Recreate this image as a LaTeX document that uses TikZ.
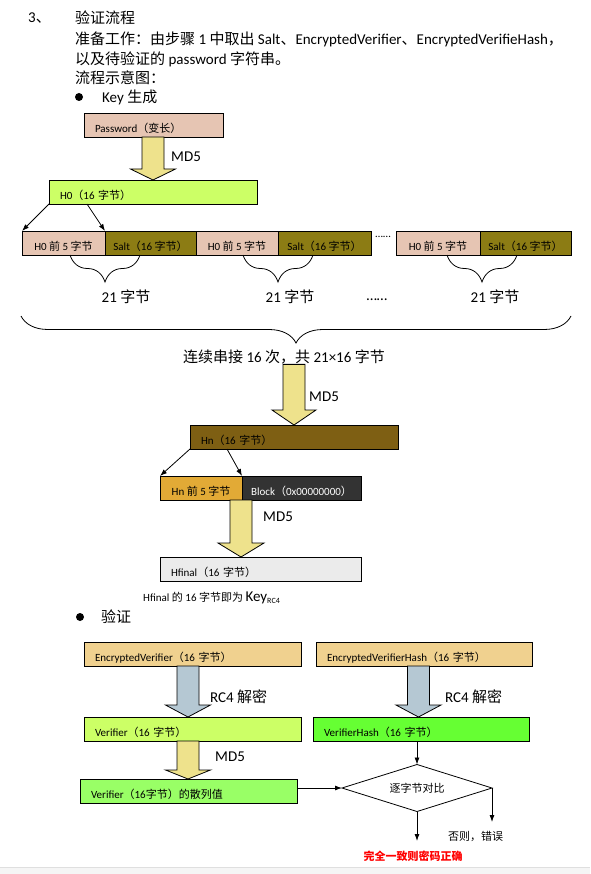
\documentclass[tikz,border=0pt]{standalone}
\usepackage{fontspec}
\setmainfont{Carlito}
\newfontfamily\cjk{Noto Sans CJK SC}
\newcommand{\zh}[1]{{\cjk #1}}
\newcommand{\nodefont}{\fontsize{11}{13}\selectfont}
\newcommand{\bodyfont}{\fontsize{15}{18}\selectfont}
\usetikzlibrary{positioning,calc,arrows.meta,decorations.pathreplacing,shapes.geometric}

\definecolor{pwcol}{HTML}{E6C5B3}
\definecolor{h0col}{HTML}{CCFF66}
\definecolor{saltcol}{HTML}{8C7C14}
\definecolor{hncol}{HTML}{7E5F13}
\definecolor{hpcol}{HTML}{E2AA36}
\definecolor{blockcol}{HTML}{333333}
\definecolor{hfcol}{HTML}{EBEBEB}
\definecolor{evcol}{HTML}{F0D18F}
\definecolor{vhcol}{HTML}{66FF33}
\definecolor{hashcol}{HTML}{99FF66}
\definecolor{yelcol}{HTML}{EEE28C}
\definecolor{bluecol}{HTML}{B5C8D3}

% fat arrow: fill, x centre, top node, bottom node, half shaft, half head, head length
\newcommand{\fatarrow}[7]{%
  \path[fatarrow,fill=#1] let \p1=(#3.south), \p2=(#4.north) in
    ({(#2-#5)*1pt},\y1) -- ({(#2+#5)*1pt},\y1) -- ({(#2+#5)*1pt},\y2+#7pt)
    -- ({(#2+#6)*1pt},\y2+#7pt) -- ({#2*1pt},\y2) -- ({(#2-#6)*1pt},\y2+#7pt)
    -- ({(#2-#5)*1pt},\y2+#7pt) -- cycle;}

\begin{document}
\begin{tikzpicture}[x=1pt, y=-1pt,
    box/.style={draw, line width=0.8pt, outer sep=0pt, anchor=north west, minimum height=24pt,
      inner xsep=11pt, inner ysep=0pt, text height=15pt, text depth=0pt, align=left, font=\nodefont},
    cbox/.style={box, align=center, inner xsep=0pt, minimum width=#1},
    txt/.style={anchor=west, inner sep=0pt, font=\bodyfont},
    lbl/.style={anchor=west, inner sep=0pt, font=\nodefont},
    dot/.style={circle, fill, inner sep=0pt, minimum size=8pt},
    conn/.style={-{Latex[length=7pt,width=5pt]}, line width=0.8pt},
    fatarrow/.style={draw, line width=0.8pt},
    brace21/.style={decorate, decoration={brace, mirror, amplitude=27pt}, line width=0.8pt}]

    \useasboundingbox (0,0) rectangle (590,874);
    \fill[gray!8] (0,867) rectangle (590,874);
    \draw[gray!25] (0,867) -- (590,867);

    % Text
    \node[txt] (num) at (28,18) {3\zh{、}};
    \node[txt] (title) at (75,18) {\zh{验证流程}};
    \node[txt] (prep) at (75,39) {\zh{准备工作：由步骤} 1 \zh{中取出} Salt\zh{、}EncryptedVerifier\zh{、}EncryptedVerifieHash\zh{，}};
    \node[txt] (prep2) at (75,59) {\zh{以及待验证的} password \zh{字符串。}};
    \node[txt] (sketch) at (75,78) {\zh{流程示意图：}};
    \node[dot] (b1) at (79,97) {};
    \node[txt] (keygen) at (102,97) {Key \zh{生成}};

    % Key generation
    \node[box, fill=pwcol, text width=117pt] (pw) at (84,113) {Password\zh{（变长）}};
    \node[box, fill=h0col, text width=186pt] (h0) at (49,180) {H0\zh{（}16 \zh{字节）}};
    \node[txt] (md5a) at (171,157) {MD5};

    \node[cbox=83, fill=pwcol] (r1) at (22,231) {H0 \zh{前} 5 \zh{字节}};
    \node[cbox=91, fill=saltcol, right=0pt of r1] (r2) {Salt\zh{（}16 \zh{字节）}};
    \node[cbox=82, fill=pwcol, right=0pt of r2] (r3) {H0 \zh{前} 5 \zh{字节}};
    \node[cbox=93, fill=saltcol, right=0pt of r3] (r4) {Salt\zh{（}16 \zh{字节）}};
    \node[cbox=84, fill=pwcol] (r5) at (396,231) {H0 \zh{前} 5 \zh{字节}};
    \node[cbox=91, fill=saltcol, right=0pt of r5] (r6) {Salt\zh{（}16 \zh{字节）}};
    \node[lbl, anchor=base] (dots1) at (383,238) {……};

    \draw[brace21] (70,255) -- (140,255);
    \draw[brace21] (243,255) -- (313,255);
    \draw[brace21] (447,255) -- (517,255);
    \node[txt, anchor=center] (len1) at (126,297) {21 \zh{字节}};
    \node[txt, anchor=center] (len2) at (290,297) {21 \zh{字节}};
    \node[txt, anchor=center] (len3) at (495,297) {21 \zh{字节}};
    \node[txt, anchor=base] (dots2) at (377,300) {……};
    \draw[brace21] (21,316) -- (571,316);
    \node[txt, anchor=center] (total) at (284,357) {\zh{连续串接} 16 \zh{次，共} 21×16 \zh{字节}};

    \node[box, fill=hncol, text width=186pt] (hn) at (190,425) {Hn\zh{（}16 \zh{字节）}};
    \node[txt] (md5b) at (309,397) {MD5};
    \node[cbox=82, fill=hpcol] (hp) at (160,476) {Hn \zh{前} 5 \zh{字节}};
    \node[cbox=119, fill=blockcol, text=white, right=0pt of hp] (blk) {Block\zh{（}0x00000000\zh{）}};
    \node[txt] (md5c) at (263,517) {MD5};
    \node[box, fill=hfcol, text width=179pt] (hf) at (160,557) {Hfinal\zh{（}16 \zh{字节）}};
    \node[lbl] (keyrc) at (143,598) {Hfinal \zh{的} 16 \zh{字节即为} {\bodyfont Key}\raisebox{-2pt}{\fontsize{8}{9}\selectfont RC4}};

    % Verification
    \node[dot] (b2) at (80,617) {};
    \node[txt] (verify) at (101,617) {\zh{验证}};
    \node[box, fill=evcol, text width=195pt] (ev) at (84,642) {EncryptedVerifier\zh{（}16 \zh{字节）}};
    \node[box, fill=evcol, text width=194pt] (evh) at (316,642) {EncryptedVerifierHash\zh{（}16 \zh{字节）}};
    \node[txt] (rc4a) at (210,697) {RC4 \zh{解密}};
    \node[txt] (rc4b) at (445,697) {RC4 \zh{解密}};
    \node[box, fill=h0col, text width=195pt] (ver) at (84,717) {Verifier\zh{（}16 \zh{字节）}};
    \node[box, fill=vhcol, text width=194pt] (verh) at (313,717) {VerifierHash\zh{（}16 \zh{字节）}};
    \node[txt] (md5d) at (215,757) {MD5};
    \node[box, fill=hashcol, text width=195pt] (vhash) at (80,779) {Verifier\zh{（}16\zh{字节）的散列值}};
    \node[draw, diamond, line width=0.8pt, outer sep=0pt, inner sep=0pt, aspect=3.2,
      minimum width=150pt, minimum height=47pt, font=\nodefont] (dm) at (417,788) {\zh{逐字节对比}};
    \coordinate (okend) at (417,841);
    \coordinate (failend) at (492,822);
    \node[lbl] (fail) at (448,836) {\zh{否则，错误}};
    \node[lbl, anchor=center, text=red, font=\nodefont\bfseries] (ok) at (413,856) {\zh{完全一致则密码正确}};

    % Arrows
    \fatarrow{yelcol}{153}{pw}{h0}{11}{22.5}{11}
    \fatarrow{yelcol}{294}{total}{hn}{11}{22}{15}
    \fatarrow{yelcol}{241}{hp}{hf}{11}{23}{14}
    \fatarrow{bluecol}{188}{ev}{ver}{11}{22.5}{12}
    \fatarrow{bluecol}{418.5}{evh}{verh}{11}{22.5}{12}
    \fatarrow{yelcol}{188}{ver}{vhash}{11}{22.5}{9}

    \draw[conn] (h0.south west) -- (r1.north west);
    \draw[conn] ($(h0.south west)+(38,0)$) -- (r1.north east);
    \draw[conn] (hn.south west) -- (hp.north west);
    \draw[conn] ($(hn.south west)+(37,0)$) -- (hp.north east);
    \draw[conn] (dm.north |- verh.south) -- (dm.north);
    \draw[conn] (dm.west -| vhash.east) -- (dm.west);
    \draw[conn] (dm.south) -- (okend);
    \draw[conn] (dm.east) -- (failend);

\end{tikzpicture}
\end{document}
